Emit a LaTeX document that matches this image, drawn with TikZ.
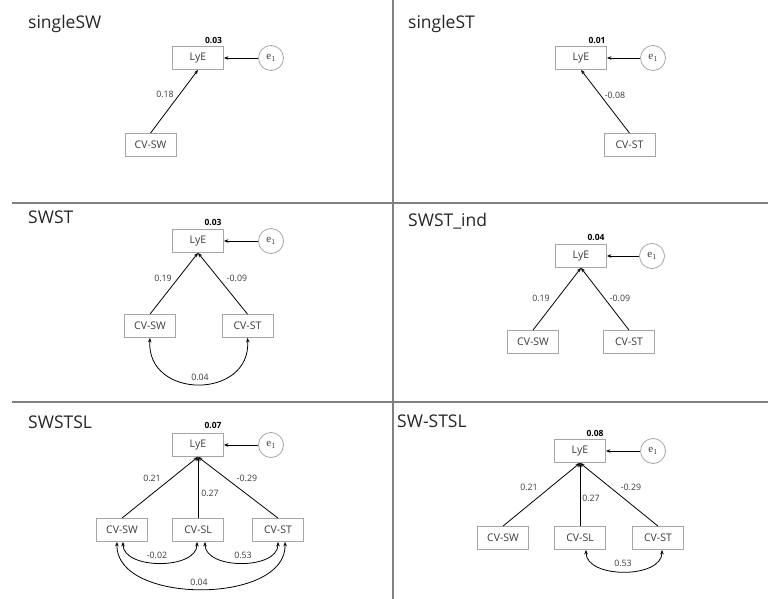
\documentclass[tikz,border=0pt]{standalone}
\usepackage{fontspec}
\setmainfont{Open Sans}
\newfontfamily\serifee{Liberation Serif}
\usetikzlibrary{arrows.meta}
\definecolor{divg}{HTML}{808080}
\definecolor{boxg}{HTML}{A6A6A6}
\definecolor{txtg}{HTML}{3A3A3A}
\tikzset{
  var/.style={draw=boxg, line width=0.8pt, minimum width=51pt, minimum height=23pt, inner sep=0pt, font=\fontsize{10.5}{12}\selectfont, text=txtg},
  err/.style={draw=boxg, line width=0.8pt, circle, minimum size=25pt, inner sep=0pt, font=\serifee\fontsize{11}{12}\selectfont, text=txtg},
  ttl/.style={anchor=base west, inner sep=0pt, font=\fontsize{17.5}{20}\selectfont, text=black!85},
  coef/.style={inner sep=0pt, font=\fontsize{8.8}{10}\selectfont, text=txtg},
  rsq/.style={inner sep=0pt, font=\bfseries\fontsize{8.5}{10}\selectfont, text=black},
  path/.style={line width=0.8pt, -{Stealth[length=4.5pt,width=3.5pt]}},
  cov/.style={line width=0.8pt, {Stealth[length=4.5pt,width=3.5pt]}-{Stealth[length=4.5pt,width=3.5pt]}},
  divider/.style={draw=divg, line width=1.8pt}
}
\newcommand{\eone}{e\textsubscript{1}}
\begin{document}
\begin{tikzpicture}[x=1pt,y=-1pt]
\fill[white] (0,0) rectangle (768,599);
\useasboundingbox (0,0) rectangle (768,599);
% dividers
\coordinate (vtop) at (393,0);
\coordinate (vbot) at (393,599);
\coordinate (h1l) at (12,203);
\coordinate (h1r) at (768,203);
\coordinate (h2l) at (12,402);
\coordinate (h2r) at (768,402);
\draw[divider] (vtop) -- (vbot);
\draw[divider] (h1l) -- (h1r);
\draw[divider] (h2l) -- (h2r);

% ---------- panel 1: singleSW
\node[ttl] (t1) at (28,29) {singleSW};
\node[var] (a-lye) at (198,58) {LyE};
\node[err] (a-e) at (271,58) {\eone};
\node[var] (a-sw) at (150.5,145) {CV-SW};
\draw[path] (a-e) -- (a-lye);
\draw[path] (a-sw.north) -- (a-lye.south);
\node[coef] (a-c1) at (165,94) {0.18};
\node[rsq] (a-r) at (213.5,40) {0.03};

% ---------- panel 2: singleST
\node[ttl] (t2) at (408,29) {singleST};
\node[var] (b-lye) at (581,58) {LyE};
\node[err] (b-e) at (653,58) {\eone};
\node[var] (b-st) at (629.5,145) {CV-ST};
\draw[path] (b-e) -- (b-lye);
\draw[path] (b-st.north) -- (b-lye.south);
\node[coef] (b-c1) at (615,95) {-0.08};
\node[rsq] (b-r) at (597,40) {0.01};

% ---------- panel 3: SWST
\node[ttl] (t3) at (28,223) {SWST};
\node[var] (c-lye) at (198,241) {LyE};
\node[err] (c-e) at (271,241) {\eone};
\node[var] (c-sw) at (150,326) {CV-SW};
\node[var] (c-st) at (247.5,326) {CV-ST};
\draw[path] (c-e) -- (c-lye);
\draw[path] (c-sw.north) -- (c-lye.south);
\draw[path] (c-st.north) -- (c-lye.south);
\draw[cov] (c-sw.south) .. controls +(-4,62) and +(4,62) .. (c-st.south);
\node[coef] (c-c1) at (163,278) {0.19};
\node[coef] (c-c2) at (237,278) {-0.09};
\node[coef] (c-c3) at (200,377) {0.04};
\node[rsq] (c-r) at (213,222) {0.03};

% ---------- panel 4: SWST_ind
\node[ttl] (t4) at (408,226) {SWST\_ind};
\node[var] (d-lye) at (581,256) {LyE};
\node[err] (d-e) at (652,256) {\eone};
\node[var] (d-sw) at (533,342) {CV-SW};
\node[var] (d-st) at (629,342) {CV-ST};
\draw[path] (d-e) -- (d-lye);
\draw[path] (d-sw.north) -- (d-lye.south);
\draw[path] (d-st.north) -- (d-lye.south);
\node[coef] (d-c1) at (541,298) {0.19};
\node[coef] (d-c2) at (620,298) {-0.09};
\node[rsq] (d-r) at (596,237) {0.04};

% ---------- panel 5: SWSTSL
\node[ttl] (t5) at (28,428) {SWSTSL};
\node[var] (e-lye) at (198,445) {LyE};
\node[err] (e-e) at (271,445) {\eone};
\node[var] (e-sw) at (122,530) {CV-SW};
\node[var] (e-sl) at (198,530) {CV-SL};
\node[var] (e-st) at (278,530) {CV-ST};
\draw[path] (e-e) -- (e-lye);
\draw[path] (e-sw.north) -- (e-lye.south);
\draw[path] (e-sl.north) -- (e-lye.south);
\draw[path] (e-st.north) -- (e-lye.south);
\draw[cov] ([xshift=1pt]e-sw.south) .. controls +(0,28) and +(0,28) .. ([xshift=-1pt]e-sl.south);
\draw[cov] ([xshift=7pt]e-sl.south) .. controls +(0,28) and +(0,28) .. (e-st.south);
\draw[cov] ([xshift=-5pt]e-sw.south) .. controls +(-2,63) and +(2,63) .. ([xshift=7pt]e-st.south);
\node[coef] (e-c1) at (152,478) {0.21};
\node[coef] (e-c2) at (210,493) {0.27};
\node[coef] (e-c3) at (247,478) {-0.29};
\node[coef] (e-c4) at (157,555) {-0.02};
\node[coef] (e-c5) at (243,555) {0.53};
\node[coef] (e-c6) at (199,582) {0.04};
\node[rsq] (e-r) at (213,425) {0.07};

% ---------- panel 6: SW-STSL
\node[ttl] (t6) at (397,427) {SW-STSL};
\node[var] (f-lye) at (580,451) {LyE};
\node[err] (f-e) at (653,451) {\eone};
\node[var] (f-sw) at (503,538) {CV-SW};
\node[var] (f-sl) at (580,538) {CV-SL};
\node[var] (f-st) at (658,538) {CV-ST};
\draw[path] (f-e) -- (f-lye);
\draw[path] (f-sw.north) -- (f-lye.south);
\draw[path] (f-sl.north) -- (f-lye.south);
\draw[path] (f-st.north) -- (f-lye.south);
\draw[cov] ([xshift=6pt]f-sl.south) .. controls +(0,29) and +(0,29) .. ([xshift=4pt]f-st.south);
\node[coef] (f-c1) at (529,487) {0.21};
\node[coef] (f-c2) at (591,498) {0.27};
\node[coef] (f-c3) at (631,487) {-0.29};
\node[coef] (f-c4) at (623,563) {0.53};
\node[rsq] (f-r) at (595,433) {0.08};
\end{tikzpicture}
\end{document}
